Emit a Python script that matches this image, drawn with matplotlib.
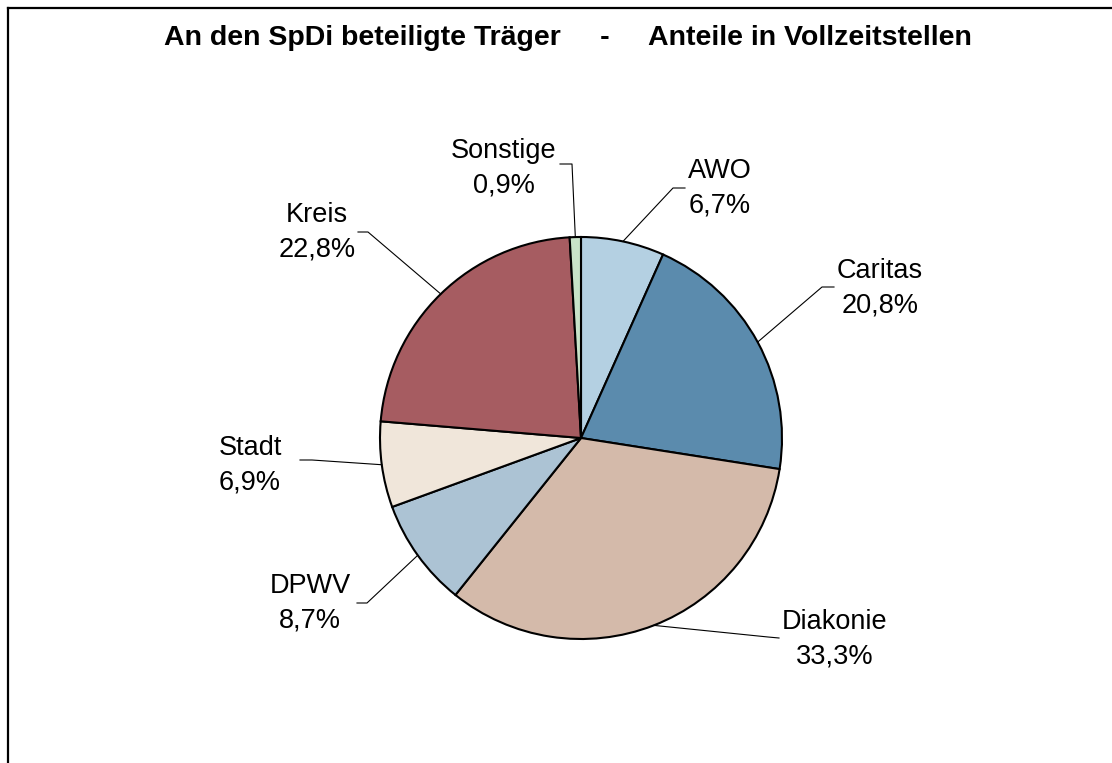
import numpy as np
import matplotlib
matplotlib.use('Agg')
import matplotlib.pyplot as plt
from matplotlib.lines import Line2D

# data
labels = ["AWO", "Caritas", "Diakonie", "DPWV", "Stadt", "Kreis", "Sonstige"]
shares = [6.7, 20.8, 33.3, 8.7, 6.9, 22.8, 0.9]
pct_text = ["6,7%", "20,8%", "33,3%", "8,7%", "6,9%", "22,8%", "0,9%"]
colors = ["#B4D0E2", "#5B8BAD", "#D4BAAA", "#ACC3D4", "#F0E6DA", "#A65C61", "#C8E3C8"]

# layout in pixels (label centre, elbow, line end)
text_pos = [(720, 188), (880, 288), (835, 639), (310, 603), (250, 465), (317, 232), (504, 168)]
elbows = [(673, 188), (822, 287), (768, 637), (367, 603), (312, 460), (368, 232), (572, 164)]
ends = [(685, 188), (834, 287), (779, 638), (357, 603), (300, 460), (358, 232), (560, 164)]

W, H = 1112, 763
cx, cy, r = 581, 438, 201

plt.rcParams['font.family'] = ['Liberation Sans', 'DejaVu Sans']
fig = plt.figure(figsize=(W / 100, H / 100), dpi=100)


def fx(x, y):
    return x / W, 1 - y / H


# frame (cut off at right and bottom)
fig.add_artist(Line2D([7.5 / W, 1], [1 - 8 / H, 1 - 8 / H], color='black', lw=1.6))
fig.add_artist(Line2D([7.5 / W, 7.5 / W], [0, 1 - 8 / H], color='black', lw=1.6))

ax = fig.add_axes([(cx - r) / W, 1 - (cy + r) / H, 2 * r / W, 2 * r / H])
wedges, _ = ax.pie(shares, colors=colors, startangle=90, counterclock=False,
                   wedgeprops=dict(edgecolor='black', linewidth=1.5))
ax.set_xlim(-1, 1)
ax.set_ylim(-1, 1)
ax.axis('off')

for w, lab, p, tp, el, en in zip(wedges, labels, pct_text, text_pos, elbows, ends):
    a = np.deg2rad((w.theta1 + w.theta2) / 2)
    ex, ey = cx + r * np.cos(a), cy - r * np.sin(a)
    xs = [ex, el[0], en[0]]
    ys = [ey, el[1], en[1]]
    fig.add_artist(Line2D([x / W for x in xs], [1 - y / H for y in ys],
                          color='black', lw=0.8))
    fig.text(*fx(*tp), lab + "\n" + p, ha='center', va='center',
             fontsize=19.5, linespacing=1.42)

fig.text(*fx(568, 38), "An den SpDi beteiligte Träger     -     Anteile in Vollzeitstellen",
         ha='center', va='center', fontsize=20.5, fontweight='bold')

fig.savefig('out.png', dpi=100)
